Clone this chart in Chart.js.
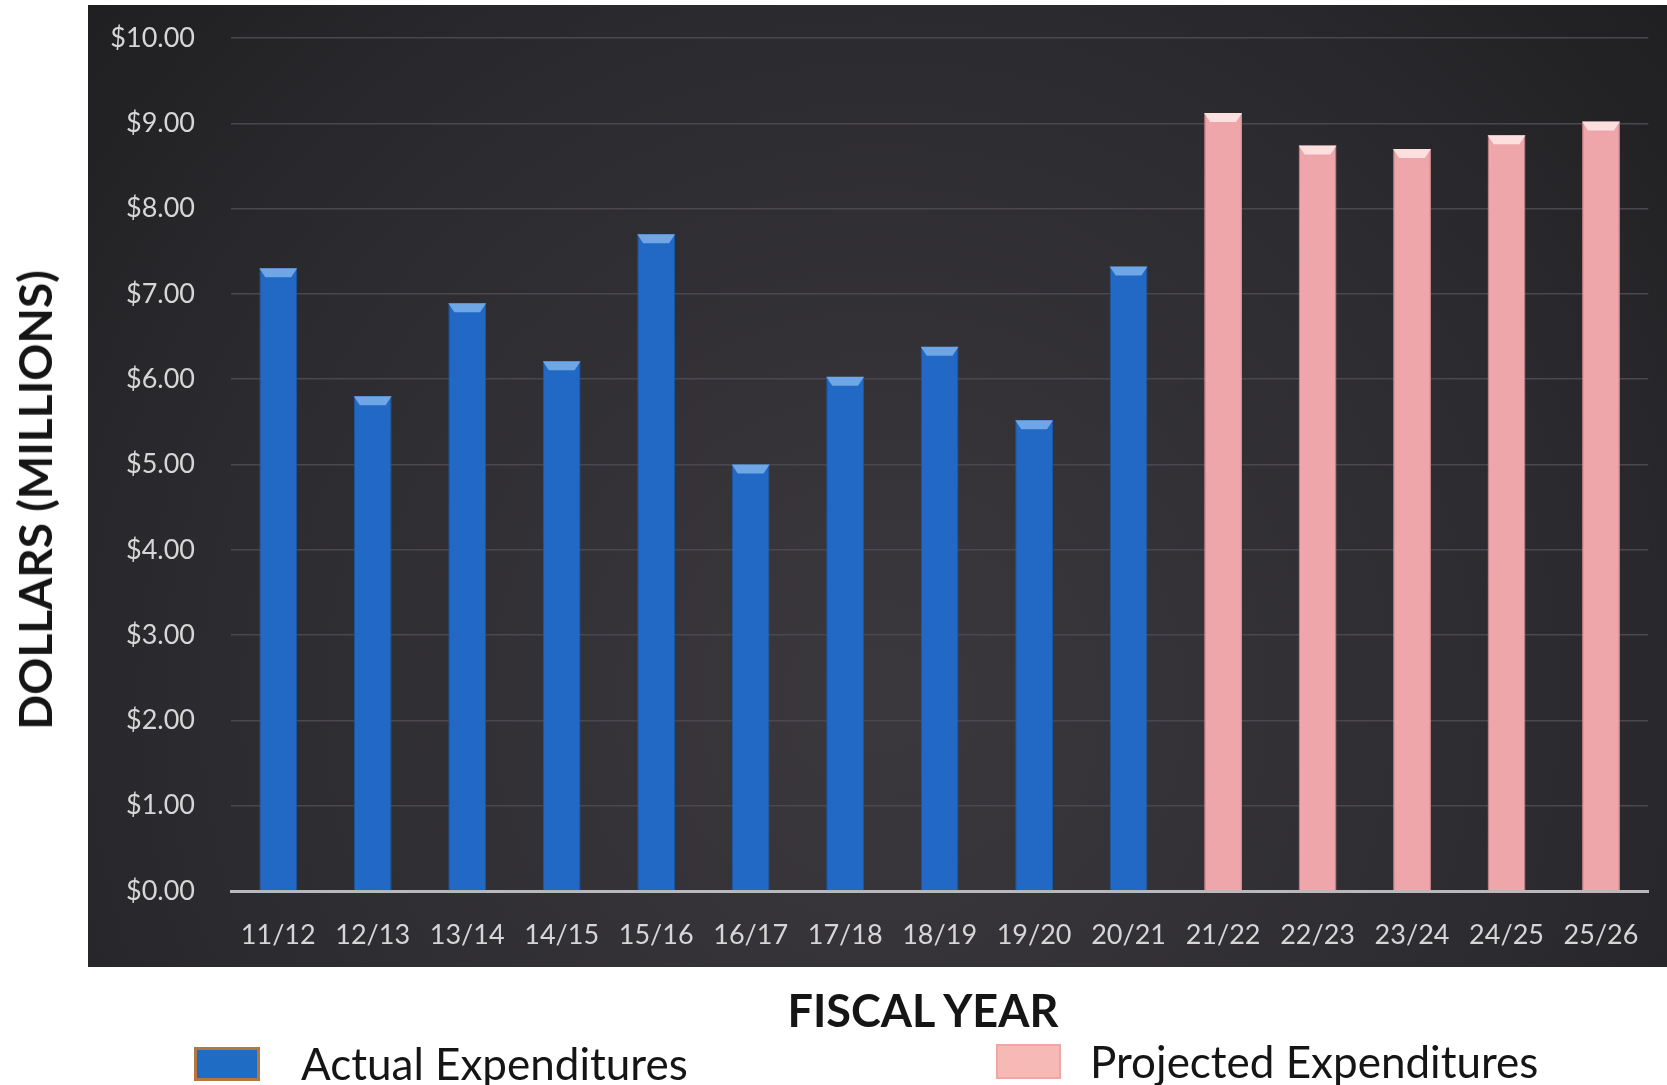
<!DOCTYPE html>
<html>
<head>
<meta charset="utf-8">
<title>Expenditures by Fiscal Year</title>
<script src="https://cdn.jsdelivr.net/npm/chart.js@4.4.1/dist/chart.umd.min.js"></script>
<style>
    html, body { margin: 0; padding: 0; background: #ffffff; }
    #wrap { position: relative; width: 1667px; height: 1085px; overflow: hidden; }
    #chart { position: absolute; left: 0; top: 0; }
    .label { position: absolute; font-family: Lato, "Noto Sans", sans-serif; color: #151515; white-space: nowrap; }
    .axis-title { font-weight: 700; line-height: 46px; }
    #yTitle { left: 35px; top: 500px; font-size: 46px; transform: translate(-50%, -50%) rotate(-90deg); }
    #xTitle { left: 923px; top: 1010px; font-size: 45px; transform: translate(-50%, -50%); }
    .legend-box { position: absolute; box-sizing: border-box; }
    .legend-text { font-size: 44px; line-height: 46px; transform: translateY(-50%); }
</style>
</head>
<body>
<div id="wrap">
    <canvas id="chart" width="1667" height="1085"></canvas>
    <div class="label axis-title" id="yTitle">DOLLARS (MILLIONS)</div>
    <div class="label axis-title" id="xTitle">FISCAL YEAR</div>
    <div class="legend-box" style="left:194px; top:1047px; width:66px; height:34px; background:#1f6cc4; border:3px solid #b5763f;"></div>
    <div class="label legend-text" style="left:301px; top:1063px;">Actual Expenditures</div>
    <div class="legend-box" style="left:996px; top:1044px; width:65px; height:35px; background:#f6b9b5; border:2px solid #eea7a2;"></div>
    <div class="label legend-text" style="left:1090px; top:1061px;">Projected Expenditures</div>
</div>
<script>
// Fiscal years on the x axis
const fiscalYears = ['11/12', '12/13', '13/14', '14/15', '15/16', '16/17', '17/18', '18/19',
    '19/20', '20/21', '21/22', '22/23', '23/24', '24/25', '25/26'];

// Dollars, millions
const actualYears = ['11/12', '12/13', '13/14', '14/15', '15/16', '16/17', '17/18', '18/19', '19/20', '20/21'];
const actualValues = [7.30, 5.80, 6.89, 6.21, 7.70, 5.00, 6.03, 6.38, 5.52, 7.32];
const projectedYears = ['21/22', '22/23', '23/24', '24/25', '25/26'];
const projectedValues = [9.12, 8.74, 8.70, 8.86, 9.02];

// Y axis ticks
const yTickValues = [0, 1, 2, 3, 4, 5, 6, 7, 8, 9, 10];

// Spread a series over all fiscal years (null where it has no bar)
function spread(years, values) {
    return fiscalYears.map(fy => {
        const i = years.indexOf(fy);
        return i >= 0 ? values[i] : null;
    });
}

// Dark panel behind the plot
const plotBackground = {
    id: 'plotBackground',
    beforeDraw(chart) {
        const ctx = chart.ctx;
        const g = ctx.createRadialGradient(880, 700, 40, 880, 700, 1150);
        g.addColorStop(0, '#3a383d');
        g.addColorStop(0.6, '#2b2a2e');
        g.addColorStop(1, '#1c1c1e');
        ctx.save();
        ctx.fillStyle = g;
        ctx.fillRect(88, 5, 1579, 962);
        ctx.restore();
    }
};

// Bevelled light cap on top of each bar
const barBevel = {
    id: 'barBevel',
    afterDatasetsDraw(chart) {
        const ctx = chart.ctx;
        const caps = ['#6fa6e6', '#fbe0df'];
        chart.data.datasets.forEach((ds, di) => {
            const meta = chart.getDatasetMeta(di);
            meta.data.forEach((bar, i) => {
                if (ds.data[i] == null) return;
                const { x, y, width } = bar.getProps(['x', 'y', 'width'], true);
                const l = x - width / 2, r = x + width / 2;
                ctx.save();
                ctx.fillStyle = caps[di];
                ctx.beginPath();
                ctx.moveTo(l, y);
                ctx.lineTo(r, y);
                ctx.lineTo(r - 6, y + 9);
                ctx.lineTo(l + 6, y + 9);
                ctx.closePath();
                ctx.fill();
                ctx.restore();
            });
        });
    }
};

new Chart(document.getElementById('chart'), {
    type: 'bar',
    data: {
        labels: fiscalYears,
        datasets: [
            {
                label: 'Actual Expenditures',
                data: spread(actualYears, actualValues),
                backgroundColor: '#2169c4',
                borderColor: '#1a58a8',
                borderWidth: { left: 1, right: 1, top: 0, bottom: 0 },
                grouped: false,
                categoryPercentage: 1,
                barPercentage: 0.40
            },
            {
                label: 'Projected Expenditures',
                data: spread(projectedYears, projectedValues),
                backgroundColor: '#eea6ab',
                borderColor: '#d78d93',
                borderWidth: { left: 1, right: 1, top: 0, bottom: 0 },
                grouped: false,
                categoryPercentage: 1,
                barPercentage: 0.40
            }
        ]
    },
    options: {
        responsive: false,
        animation: false,
        layout: { padding: { top: 38, right: 17, bottom: 0, left: 0 } },
        plugins: {
            legend: { display: false },
            tooltip: { enabled: false }
        },
        scales: {
            x: {
                grid: { display: false, drawTicks: false },
                border: { color: '#b9b9bb', width: 3 },
                ticks: {
                    color: '#d6d6d6',
                    padding: 28,
                    font: { family: 'Lato, "Noto Sans", sans-serif', size: 27 }
                },
                afterFit(scale) { scale.height = 194; }
            },
            y: {
                min: 0,
                max: 10,
                afterBuildTicks(scale) {
                    scale.ticks = yTickValues.map(v => ({ value: v }));
                },
                grid: { color: '#4a484e', lineWidth: 1.5, drawTicks: false },
                border: { display: false },
                ticks: {
                    color: '#d6d6d6',
                    padding: 36,
                    font: { family: 'Lato, "Noto Sans", sans-serif', size: 27 },
                    callback: v => '$' + v.toFixed(2)
                },
                afterFit(scale) {
                    scale.width = 231;
                    // tick padding is horizontal here; keep it out of the top/bottom space
                    scale.paddingTop = 16;
                    scale.paddingBottom = 16;
                }
            }
        }
    },
    plugins: [plotBackground, barBevel]
});
</script>
</body>
</html>
